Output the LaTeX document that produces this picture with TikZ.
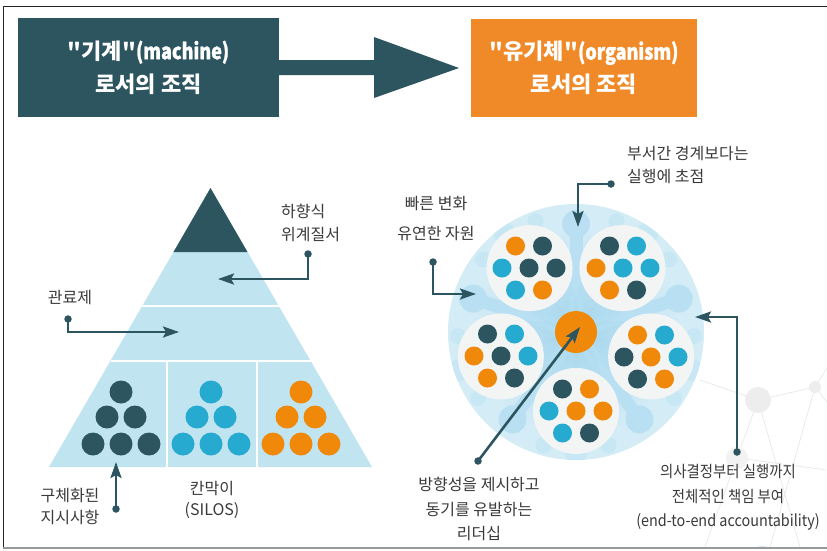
\documentclass[tikz,border=0pt]{standalone}
\usepackage{fontspec}
\setmainfont{Noto Sans CJK KR}
\newfontfamily\narrowfont[FakeStretch=0.9]{Noto Sans CJK KR}
\newfontfamily\headfont{Noto Sans CJK KR}
\newfontfamily\headlatin[FakeStretch=0.82,FakeBold=1.2]{Noto Sans CJK KR}
\usetikzlibrary{arrows.meta}

\definecolor{tealdark}{HTML}{2D5560}
\definecolor{orangebox}{HTML}{F08A28}
\definecolor{dotorange}{HTML}{F0880A}
\definecolor{dotblue}{HTML}{27AAD0}
\definecolor{pyrlight}{HTML}{C1E4F1}
\definecolor{textgray}{HTML}{3A3A3A}
\definecolor{cpale}{HTML}{D4ECF6}
\definecolor{cmid}{HTML}{A9D8EE}
\definecolor{cblob}{HTML}{B9E0F2}
\definecolor{cellwhite}{HTML}{F3F5F5}

% seven dots of a team cell: two, three, two
\newcommand{\sevendots}[8]{%
  \begin{scope}[shift={#1}]
    \fill[#2] (-13.5,-22) circle (9.5);
    \fill[#3] (13.5,-22) circle (9.5);
    \fill[#4] (-27,0) circle (9.5);
    \fill[#5] (0,0) circle (9.5);
    \fill[#6] (27,0) circle (9.5);
    \fill[#7] (-13.5,22) circle (9.5);
    \fill[#8] (13.5,22) circle (9.5);
  \end{scope}}

\begin{document}
\begin{tikzpicture}[x=1pt,y=-1pt,
  headbox/.style={inner sep=0pt, text=white, align=center,
    font=\fontsize{22}{33}\selectfont\headfont\bfseries},
  lbl/.style={inner sep=0pt, text=textgray, font=\fontsize{16}{23}\selectfont},
  callout/.style={draw=tealdark, line width=2.6pt,
    -{Stealth[length=16pt,width=11pt,inset=3pt]}},
  dotnode/.style={circle, fill=tealdark, minimum size=7.5pt, inner sep=0pt},
  faint/.style={draw=black!9, line width=0.7pt}]

\useasboundingbox (0,0) rectangle (827,550);
\fill[white] (0,0) rectangle (827,550);

% faint network ornament, bottom right
\begin{scope}
  \clip (3,0) rectangle (827,547);
  \draw[faint] (758,400) -- (815,387) -- (827,368);
  \draw[faint] (815,387) -- (827,402);
  \draw[faint] (758,400) -- (737,458) -- (705,547);
  \draw[faint] (758,400) -- (800,547);
  \draw[faint] (815,387) -- (770,547);
  \draw[faint] (737,458) -- (827,470);
  \draw[faint] (758,400) -- (700,380);
  \fill[black!7] (758,400) circle (13);
  \fill[black!7] (815,387) circle (6);
  \fill[black!5] (737,458) circle (11);
  \fill[cpale] (762,560) circle (14);
\end{scope}

% frame
\draw[black!85, line width=1.4pt] (3,6.5) -- (827,6.5);
\draw[black!85, line width=1pt] (3,6.5) -- (3,548);
\draw[black!40, line width=1.6pt] (3,548) -- (827,548);

% ---------- heading ----------
\node[headbox, fill=tealdark, minimum width=261pt, minimum height=99pt]
  (mach) at (148.5,67.5) {"기계"{\headlatin (machine)}\\로서의 조직};
\node[headbox, fill=orangebox, minimum width=226pt, minimum height=98pt]
  (orga) at (584,68) {"유기체"{\headlatin (organism)}\\로서의 조직};
\fill[tealdark] (mach.east) ++(0,-7.5) -- (374,60) -- (374,37) -- (459,68)
  -- (374,98) -- (374,75) -- (279,75) -- cycle;

% ---------- pyramid ----------
\fill[pyrlight] (49,467) -- (210.5,188) -- (372,467) -- cycle;
\fill[tealdark] (210.5,188) -- (173.5,252) -- (247.5,252) -- cycle;
\draw[white, line width=1.1pt] (142.3,306) -- (278.7,306);
\draw[white, line width=1.1pt] (110.5,361) -- (310.5,361);
\draw[white, line width=1.1pt] (167,361) -- (167,467);
\draw[white, line width=1.1pt] (257,361) -- (257,467);

\foreach \dx/\col in {0/tealdark, 90/dotblue, 180/dotorange}{
  \begin{scope}[shift={(\dx,0)}]
    \foreach \px/\py in {121/392, 107/417, 135/417, 93/444, 121/444, 149/444}
      \fill[\col] (\px,\py) circle (11.5);
  \end{scope}}

% ---------- organic cluster ----------
\fill[cpale] (576,332) circle (128);
\begin{scope}[shift={(576,332)}]
  \clip (0,0) circle (128);
  \shade[inner color=cmid, outer color=cpale] (0,0) circle (105);
  \foreach \a in {270,342,54,126,198}{
    \draw[cblob, line width=13pt, line cap=round] (0,0) -- (\a:100);
    \fill[cblob] (\a:108) circle (14);
    \fill[cblob!45!cpale] (\a+36:122) circle (11);
    \fill[cblob!45!cpale] (\a+20:118) circle (8);
    \fill[cblob!45!cpale] (\a+52:118) circle (8);
  }
  \foreach \a in {0,36,...,324}
    \fill[cmid, opacity=0.35, rotate=\a] (40,0) ellipse (30 and 11);
  \foreach \a in {234,306,162,18,90}
    \fill[cellwhite] (\a:79) circle (43);
\end{scope}

\sevendots{(529,268)}{dotorange}{tealdark}{dotblue}{tealdark}{tealdark}{dotblue}{dotorange}
\sevendots{(623,268)}{tealdark}{dotblue}{dotorange}{dotblue}{dotblue}{dotorange}{tealdark}
\sevendots{(501,356)}{tealdark}{dotblue}{dotorange}{tealdark}{dotblue}{dotorange}{tealdark}
\sevendots{(651,357)}{dotorange}{dotblue}{tealdark}{dotorange}{dotblue}{tealdark}{dotorange}
\sevendots{(576,411)}{tealdark}{dotorange}{dotblue}{dotorange}{dotorange}{dotblue}{tealdark}

\fill[dotorange] (576,332) circle (21);

% ---------- labels ----------
\node[lbl, align=left, anchor=west] (hier) at (281,222.5) {하향식\\위계질서};
\node[lbl] (bure) at (70,297) {관료제};
\node[lbl, align=center, font=\fontsize{16}{22}\selectfont] (orde) at (70,507) {구체화된\\지시사항};
\node[lbl, align=center, font=\fontsize{16}{21}\selectfont] (silo) at (212,499.5) {칸막이\\(SILOS)};
\node[lbl, align=center, font=\fontsize{16}{30}\selectfont] (fast) at (436,219) {빠른 변화\\유연한 자원};
\node[lbl, align=left, anchor=west, font=\fontsize{16}{24}\selectfont] (exec) at (627,165) {부서간 경계보다는\\실행에 초점};
\node[lbl, align=center, font=\fontsize{16}{24.5}\selectfont] (lead) at (479,509) {방향성을 제시하고\\동기를 유발하는\\리더십};
\node[lbl, align=center, font=\fontsize{16}{24.5}\selectfont\narrowfont] (resp) at (728,497.5)
  {의사결정부터 실행까지\\전체적인 책임 부여\\(end-to-end accountability)};

% ---------- callouts ----------
\node[dotnode] (dhier) at (308,254) {};
\coordinate (thier) at (218,279);
\draw[callout] (dhier.center) |- (thier);

\node[dotnode] (dbure) at (68,319) {};
\coordinate (tbure) at (179,332);
\draw[callout] (dbure.center) |- (tbure);

\node[dotnode] (dorde) at (116,509) {};
\coordinate (torde) at (116,462);
\draw[callout] (dorde.center) -- (torde);

\node[dotnode] (dfast) at (433,262) {};
\coordinate (tfast) at (476,294);
\draw[callout] (dfast.center) |- (tfast);

\node[dotnode] (dexec) at (611,184) {};
\coordinate (texec) at (578,227);
\draw[callout] (dexec.center) -| (texec);

\node[dotnode] (dresp) at (737,452) {};
\coordinate (tresp) at (695,317);
\draw[callout] (dresp.center) |- (tresp);

\node[dotnode] (dlead) at (478,461) {};
\coordinate (tlead) at (580,327);
\draw[callout] (dlead.center) -- (tlead);

\end{tikzpicture}
\end{document}
